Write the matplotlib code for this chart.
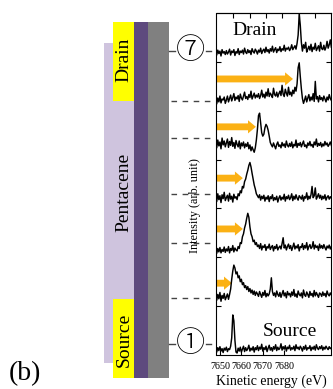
import matplotlib
matplotlib.use("Agg")
from matplotlib import pyplot as plt
from matplotlib.patches import Rectangle, FancyArrow
import numpy as np

plt.rcParams['font.family'] = ['Liberation Serif', 'Noto Sans CJK JP', 'DejaVu Sans']

# kinetic energy grid (eV), 0.5 eV steps, 10 values = 5 eV per row below
energy = np.arange(7648, 7702.01, 0.5)

# spectra, bottom (source) to top (drain), intensity in units of one panel height
source = [.12, .06, .15, .09, .17, .08, .13, .05, .14, .10,
          .16, .07, .13, .11, .18, .35, .82, .70, .30, .06,
          .04, .14, .08, .16, .06, .12, .18, .07, .15, .09,
          .13, .20, .08, .14, .10, .17, .06, .15, .11, .19,
          .09, .16, .12, .22, .08, .15, .11, .18, .07, .14,
          .20, .10, .15, .08, .17, .12, .21, .09, .16, .11,
          .14, .23, .10, .17, .12, .19, .08, .16, .13, .20,
          .10, .15, .12, .18, .09, .21, .13, .16, .11, .18,
          .14, .08, .17, .12, .20, .10, .15, .13, .19, .09,
          .16, .12, .18, .10, .21, .14, .11, .17, .13, .19,
          .10, .16, .12, .18, .14, .11, .17, .13, .15]
pos2 = [.20, .12, .24, .15, .28, .10, .22, .16, .26, .13,
        .19, .25, .14, .24, .35, .55, .72, .84, .78, .66,
        .70, .58, .62, .50, .55, .44, .48, .38, .42, .34,
        .40, .30, .36, .27, .33, .24, .31, .22, .29, .25,
        .20, .30, .24, .18, .28, .22, .32, .19, .26, .21,
        .25, .35, .58, .30, .22, .27, .19, .31, .24, .20,
        .28, .18, .25, .32, .21, .27, .17, .30, .23, .26,
        .19, .29, .22, .34, .20, .25, .18, .31, .24, .21,
        .27, .17, .33, .23, .20, .29, .24, .18, .30, .22,
        .26, .19, .32, .21, .28, .23, .18, .27, .25, .20,
        .29, .22, .26, .19, .31, .24, .21, .27, .23]
pos3 = [.14, .08, .18, .11, .20, .09, .16, .12, .21, .10,
        .17, .13, .22, .09, .18, .14, .24, .11, .19, .15,
        .13, .22, .18, .30, .28, .42, .48, .60, .68, .80,
        .90, .82, .62, .48, .42, .32, .35, .26, .30, .22,
        .25, .18, .28, .15, .23, .20, .26, .14, .22, .19,
        .27, .16, .21, .24, .13, .22, .18, .26, .15, .20,
        .23, .17, .28, .40, .19, .25, .15, .22, .27, .18,
        .24, .14, .21, .29, .17, .23, .19, .26, .13, .22,
        .20, .28, .16, .24, .19, .30, .15, .22, .26, .18,
        .21, .32, .17, .25, .20, .23, .14, .27, .19, .24,
        .18, .26, .20, .15, .23, .19, .25, .17, .22]
pos4 = [.24, .14, .30, .18, .26, .12, .28, .20, .33, .16,
        .22, .27, .15, .31, .19, .25, .13, .29, .21, .24,
        .18, .30, .26, .36, .32, .45, .42, .55, .60, .70,
        .78, .88, .94, .85, .72, .60, .48, .40, .30, .26,
        .22, .28, .17, .25, .20, .27, .15, .23, .19, .26,
        .14, .24, .20, .28, .16, .22, .18, .25, .13, .21,
        .26, .17, .23, .19, .29, .15, .24, .20, .27, .18,
        .22, .30, .16, .25, .19, .28, .21, .17, .26, .23,
        .19, .27, .15, .24, .21, .32, .18, .25, .20, .28,
        .45, .22, .26, .42, .19, .24, .30, .21, .27, .18,
        .25, .20, .28, .17, .23, .26, .19, .24, .21]
pos5 = [.32, .24, .40, .28, .36, .22, .44, .30, .38, .26,
        .34, .42, .25, .37, .29, .45, .27, .35, .23, .39,
        .31, .26, .38, .22, .34, .28, .36, .24, .32, .27,
        .35, .22, .30, .18, .26, .20, .15, .24, .40, .62,
        .90, .95, .75, .55, .48, .52, .65, .72, .68, .60,
        .48, .35, .30, .26, .34, .28, .22, .31, .36, .27,
        .30, .24, .35, .28, .32, .25, .38, .29, .26, .33,
        .27, .36, .24, .31, .28, .40, .25, .33, .29, .35,
        .26, .32, .38, .27, .30, .24, .34, .29, .37, .28,
        .31, .25, .36, .30, .42, .27, .33, .29, .35, .26,
        .32, .28, .37, .30, .34, .27, .31, .36, .29]
pos6 = [.20, .14, .26, .18, .30, .16, .24, .22, .28, .15,
        .22, .30, .18, .25, .32, .20, .27, .35, .21, .28,
        .24, .31, .19, .34, .26, .22, .30, .38, .25, .29,
        .23, .33, .27, .40, .24, .30, .36, .26, .32, .28,
        .35, .25, .31, .42, .28, .34, .26, .38, .30, .45,
        .29, .36, .32, .27, .46, .33, .30, .38, .28, .35,
        .40, .31, .52, .34, .29, .44, .36, .30, .48, .33,
        .38, .30, .42, .35, .48, .40, .55, .88, .98, .70,
        .45, .25, .15, .22, .30, .18, .26, .33, .20, .28,
        .22, .35, .19, .60, .24, .29, .18, .31, .23, .27,
        .20, .30, .24, .18, .28, .22, .33, .25, .21]
drain = [.20, .14, .24, .17, .22, .12, .25, .18, .21, .15,
         .23, .16, .20, .26, .14, .22, .19, .25, .13, .21,
         .18, .27, .15, .22, .19, .24, .16, .28, .20, .17,
         .25, .19, .23, .15, .27, .21, .18, .26, .22, .16,
         .24, .20, .28, .17, .23, .26, .19, .30, .21, .25,
         .18, .27, .22, .32, .20, .25, .29, .19, .26, .23,
         .31, .21, .27, .24, .34, .22, .28, .26, .30, .23,
         .27, .35, .25, .29, .33, .26, .38, .55, .98, .75,
         .40, .22, .35, .28, .40, .20, .26, .32, .24, .36,
         .21, .30, .26, .38, .23, .28, .33, .22, .40, .27,
         .25, .34, .24, .30, .42, .28, .35, .45, .30]
spectra = [source, pos2, pos3, pos4, pos5, pos6, drain]
for s in spectra:
    assert len(s) == len(energy), len(s)

# arrows: panel index, height in panel, tip energy (eV)
arrow_panel = [1, 2, 3, 4, 5]
arrow_level = [.47, .58, .62, .67, .65]
arrow_tip = [7655.6, 7660.7, 7660.7, 7666.8, 7684.1]

x_ticks = [7650, 7660, 7670, 7680]
top_ticks = [7656, 7664, 7671.5, 7679, 7687, 7694.5]

orange = '#FBB114'

fig = plt.figure(figsize=(3.33, 3.89), dpi=100)

# schematic drawn in pixel coordinates
over = fig.add_axes([0, 0, 1, 1])
over.set_xlim(0, 333)
over.set_ylim(389, 0)
over.axis('off')
over.add_patch(Rectangle((104, 43), 30, 320, color='#CFC4DE', lw=0))
over.add_patch(Rectangle((113, 22), 21, 79, color='#FFFF00', lw=0))
over.add_patch(Rectangle((113, 299), 21, 79, color='#FFFF00', lw=0))
over.add_patch(Rectangle((134, 22), 14, 356, color='#5E4A7E', lw=0))
over.add_patch(Rectangle((148, 22), 21, 356, color='#808080', lw=0))
over.text(124, 60, "Drain", rotation=90, ha='center', va='center', fontsize=14)
over.text(124, 192, "Pentacene", rotation=90, ha='center', va='center', fontsize=14)
over.text(124, 340, "Source", rotation=90, ha='center', va='center', fontsize=14)
over.text(25, 374, "(b)", ha='center', va='center', fontsize=20)

for y in [101, 138, 194, 243, 298]:
    over.plot([171, 211], [y, y], color='#444444', lw=1.0, ls=(0, (4, 4)))
for y, lab in [(51, "⑦"), (344, "①")]:
    over.plot([169, 175], [y, y], color='#444444', lw=1.0)
    over.plot([206, 211], [y, y], color='#444444', lw=1.0)
    over.text(190, y, lab, ha='center', va='center', fontsize=21,
              family=['Noto Sans CJK JP', 'DejaVu Sans'], fontweight='light')

ax = fig.add_axes([216.5 / 333, 34 / 389, 114 / 333, 342 / 389])
for i, s in enumerate(spectra):
    ax.plot(energy, i + np.array(s), color='black', lw=1.05)

for p, lv, tip in zip(arrow_panel, arrow_level, arrow_tip):
    ax.add_patch(FancyArrow(7648.4, p + lv, tip - 7648.4, 0, width=0.14,
                            head_width=0.27, head_length=3.7,
                            length_includes_head=True, color=orange, lw=0))

ax.set_xlim(7648.4, 7701.6)
ax.set_ylim(0, 7)
ax.set_xticks(x_ticks)
ax.set_yticks(range(1, 7))
ax.set_yticklabels([])
ax.tick_params(direction='in', length=3.5, width=0.8, labelsize=7.3, pad=5,
               left=True, right=True, top=False)
top = ax.secondary_xaxis('top')
top.set_xticks(top_ticks)
top.set_xticklabels([])
top.tick_params(direction='in', length=3.5, width=0.8)
for sp in ax.spines.values():
    sp.set_linewidth(0.8)
top.spines['top'].set_linewidth(0.8)

ax.text(0.33, 0.95, "Drain", transform=ax.transAxes, ha='center', va='center', fontsize=14)
ax.text(0.64, 0.068, "Source", transform=ax.transAxes, ha='center', va='center', fontsize=14)
ax.set_xlabel("Kinetic energy (eV)", fontsize=10)
ax.xaxis.set_label_coords(0.48, -0.058)
ax.set_ylabel("Intensity (arb. unit)", fontsize=8.8)
ax.yaxis.set_label_coords(-0.136, 0.437)

fig.savefig("out.png", dpi=100)
